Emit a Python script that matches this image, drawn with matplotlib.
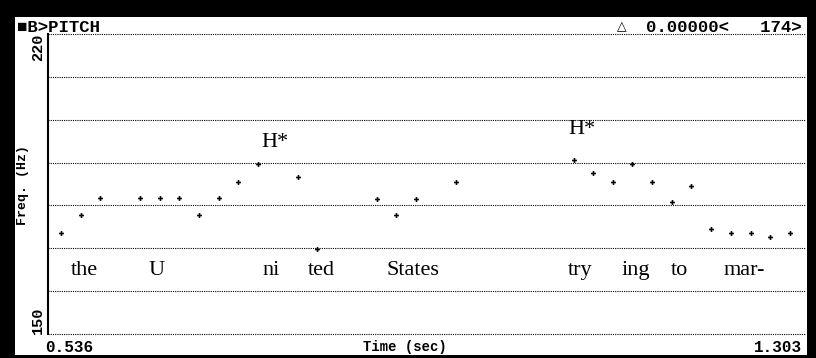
import matplotlib.pyplot as plt
from matplotlib.patches import Rectangle

## Pitch track data (time in sec, F0 in Hz)
times = [0.549, 0.569, 0.589, 0.629, 0.649, 0.669, 0.689, 0.709, 0.729, 0.749,
         0.789, 0.809, 0.869, 0.889, 0.909, 0.949, 1.069, 1.088, 1.108, 1.128,
         1.148, 1.168, 1.188, 1.208, 1.228, 1.248, 1.268, 1.288]
freqs = [173.6, 177.8, 181.7, 181.7, 181.7, 181.7, 177.8, 181.7, 185.5, 189.7,
         186.7, 169.8, 181.6, 177.8, 181.6, 185.5, 190.5, 187.6, 185.5, 189.7,
         185.5, 180.8, 184.6, 174.5, 173.6, 173.6, 172.7, 173.6]

## Syllable labels under the track and pitch accents
words = ['the', 'U', 'ni', 'ted', 'States', 'try', 'ing', 'to', 'mar-']
word_times = [0.5725, 0.6464, 0.7619, 0.8126, 0.9058, 1.075, 1.1313, 1.1753, 1.2412]
accents = ['H*', 'H*']
accent_times = [0.766, 1.077]
accent_freqs = [193.6, 196.7]

t_min, t_max = 0.536, 1.303
f_min, f_max = 150, 220
grid_freqs = list(range(150, 221, 10))

W, H = 816, 358
fig = plt.figure(figsize=(W / 100, H / 100), dpi=100)
fig.patch.set_facecolor('black')
fig.patches.append(Rectangle((15 / W, 3 / H), 792 / W, 338 / H,
                             transform=fig.transFigure, facecolor='white',
                             edgecolor='none', zorder=-10))

ax = fig.add_axes([48 / W, 24 / H, 757 / W, 300 / H])
ax.set_facecolor('none')
ax.set_xlim(t_min, t_max)
ax.set_ylim(f_min, f_max)
for s in ['top', 'right', 'bottom']:
    ax.spines[s].set_visible(False)
ax.spines['left'].set_linewidth(1.5)
ax.set_xticks([])
ax.set_yticks([])

## dotted frequency grid
for g in grid_freqs:
    ax.axhline(g, color='black', linestyle=(0, (1, 1)), linewidth=0.8,
               clip_on=False, zorder=1)

ax.plot(times, freqs, linestyle='none', marker='P', markersize=3.5,
        color='black', markeredgewidth=0, zorder=3)

serif = dict(family='Liberation Serif', fontsize=16, color='black')
for w, t in zip(words, word_times):
    ax.text(t, 163.8, w, ha='center', va='baseline', **serif)
for a, t, f in zip(accents, accent_times, accent_freqs):
    ax.text(t, f, a, ha='center', va='baseline', **serif)

## terminal style header / axis texts
mono = dict(family=['Liberation Mono', 'DejaVu Sans Mono'], fontweight='bold',
            color='black')
fig.text(17 / W, 1 - 27 / H, '\u25a0B>PITCH', ha='left', va='center',
         fontsize=12.5, **mono)
fig.text(622 / W, 1 - 27 / H, '\u25b3', ha='center', va='center',
         fontsize=9, family='DejaVu Sans', fontweight='bold', color='black')
fig.text(802 / W, 1 - 27 / H, '0.00000<   174>', ha='right', va='center',
         fontsize=12.5, **mono)

fig.text(38 / W, 1 - 34 / H, str(f_max), rotation=90, ha='center', va='top',
         fontsize=11, **mono)
fig.text(38 / W, 1 - 334 / H, str(f_min), rotation=90, ha='center', va='bottom',
         fontsize=11, **mono)
fig.text(23.5 / W, 1 - 185 / H, 'Freq. (Hz)', rotation=90, ha='center',
         va='center', fontsize=9.5, **mono)

fig.text(45 / W, 1 - 347 / H, f'{t_min:.3f}', ha='left', va='center',
         fontsize=11.5, **mono)
fig.text(405 / W, 1 - 347 / H, 'Time (sec)', ha='center', va='center',
         fontsize=10, **mono)
fig.text(802 / W, 1 - 347 / H, f'{t_max:.3f}', ha='right', va='center',
         fontsize=11.5, **mono)

fig.savefig('out.png', dpi=100, facecolor=fig.get_facecolor())
